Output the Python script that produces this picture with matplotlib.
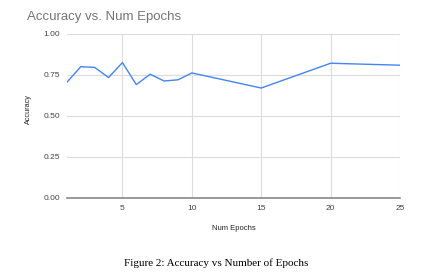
import matplotlib
matplotlib.use("Agg")
import matplotlib.pyplot as plt

# donnees
epochs = [1, 2, 3, 4, 5, 6, 7, 8, 9, 10, 15, 20, 25]
accuracy = [0.705, 0.800, 0.796, 0.734, 0.825, 0.691, 0.754, 0.713, 0.720, 0.762, 0.670, 0.821, 0.809]
xticks = [5, 10, 15, 20, 25]
yticks = [0.0, 0.25, 0.5, 0.75, 1.0]

plt.rcParams['font.family'] = ['Liberation Sans', 'DejaVu Sans']

fig = plt.figure(figsize=(4.26, 2.8), dpi=100)
ax = fig.add_axes([0.157, 0.293, 0.782, 0.586])

ax.plot(epochs, accuracy, color='#4285F4', linewidth=1.0)

ax.set_xlim(1, 25)
ax.set_ylim(0, 1.0)
ax.set_xticks(xticks)
ax.set_yticks(yticks)
ax.set_yticklabels(['%.2f' % v for v in yticks])
ax.grid(True, color='#dcdcdc', linewidth=0.8)
ax.set_axisbelow(True)
for s in ['top', 'right', 'left']:
    ax.spines[s].set_visible(False)
ax.spines['bottom'].set_color('#888888')
ax.spines['bottom'].set_linewidth(1.2)
ax.tick_params(length=0, labelsize=6, colors='#444444', pad=5)

ax.set_xlabel('Num Epochs', fontsize=5.5, color='#222222')
ax.xaxis.set_label_coords(0.5, -0.165)
ax.set_ylabel('Accuracy', fontsize=5.2, color='#222222')
ax.yaxis.set_label_coords(-0.105, 0.54)

fig.text(0.063, 0.94, 'Accuracy vs. Num Epochs', fontsize=9.5, color='#757575', va='center')
fig.text(0.508, 0.06, 'Figure 2: Accuracy vs Number of Epochs', fontsize=8,
         family='Liberation Serif', ha='center', va='center')

fig.savefig('out.png', dpi=100)
